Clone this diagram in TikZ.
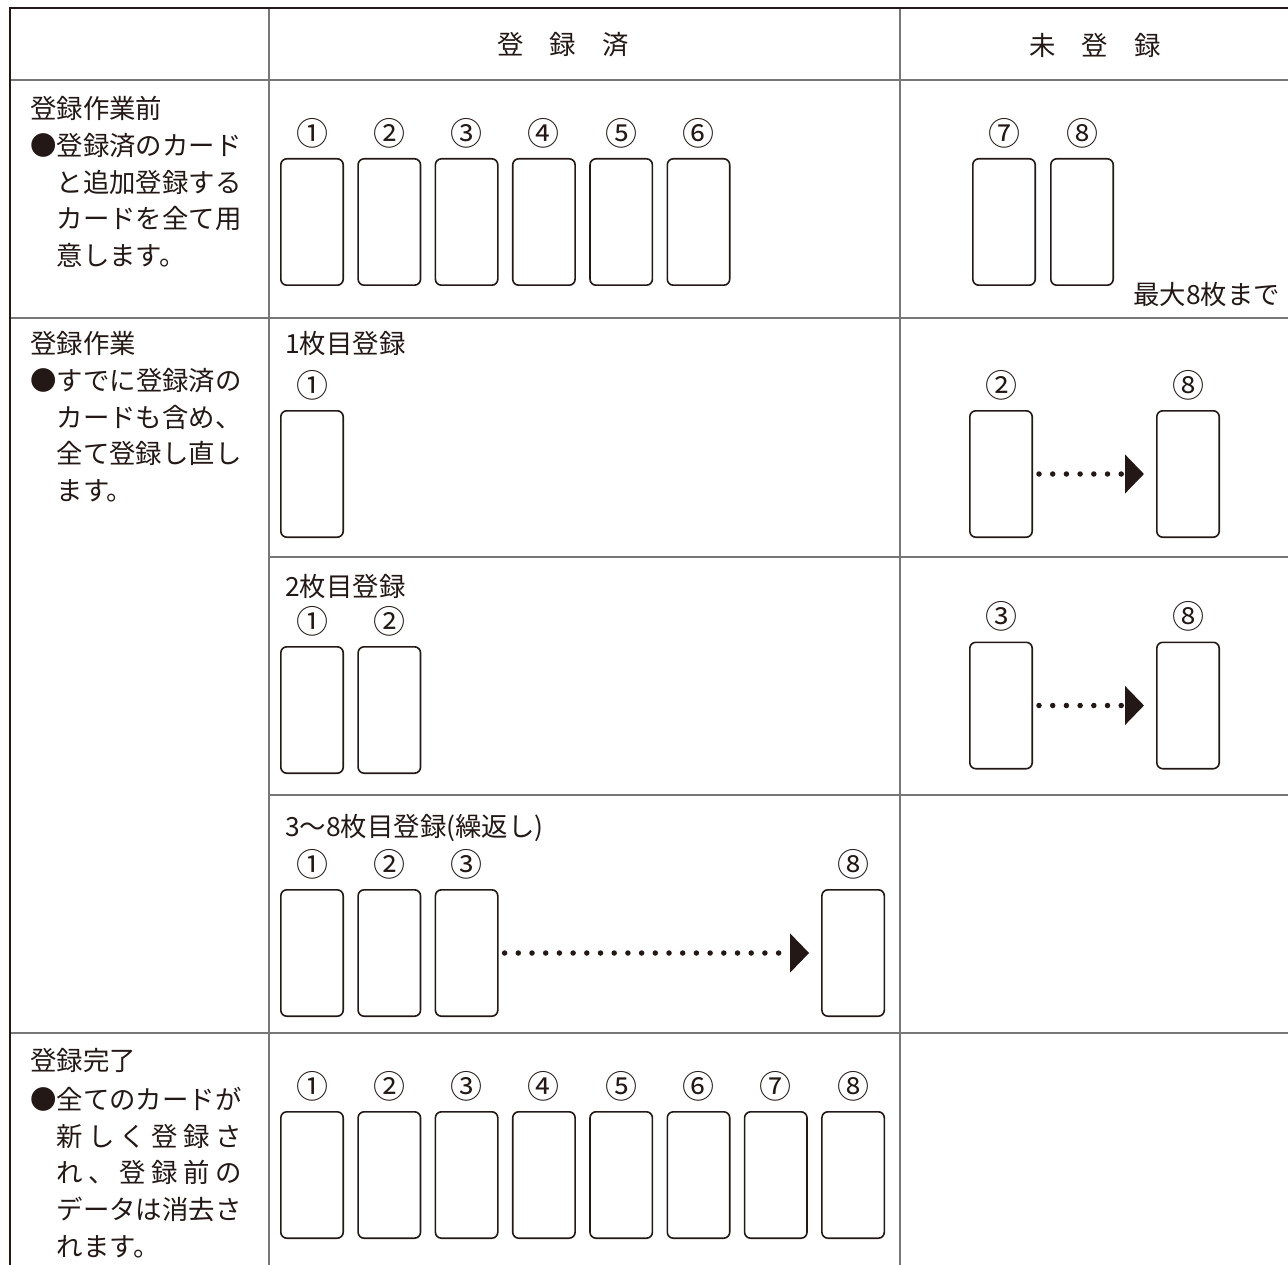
\documentclass[tikz,border=0pt]{standalone}
\usepackage{fontspec}
\setmainfont{Noto Sans CJK JP}
\usetikzlibrary{arrows.meta, positioning}
\definecolor{ink}{HTML}{231815}
\definecolor{rulegray}{HTML}{777777}

\begin{document}
\begin{tikzpicture}[x=1pt, y=-1pt,
	card/.style={draw=ink, line width=1.6pt, rounded corners=6pt, minimum width=62.4pt, minimum height=126.4pt, inner sep=0pt},
	num/.style={font=\fontsize{32}{32}\selectfont, text=ink, inner sep=0pt},
	head/.style={font=\fontsize{26.4}{30}\selectfont, text=ink, inner sep=0pt, anchor=west},
	desc/.style={font=\fontsize{26.4}{36.7}\selectfont, text=ink, inner sep=0pt, anchor=north west, align=left},
	dotarrow/.style={ink, line width=5.5pt, line cap=round, dash pattern=on 0pt off 13.7pt, -{Triangle[length=19pt, width=38pt]}, shorten <=6pt, shorten >=12pt},
	grid/.style={rulegray, line width=1.3pt},
	frame/.style={ink, line width=2.2pt}
	]
	
	\useasboundingbox (0,0) rectangle (1288,1265);
	
	% table
	\draw[grid] (269,8) -- (269,1265);
	\draw[grid] (900,8) -- (900,1265);
	\draw[grid] (10,80) -- (1288,80);
	\draw[grid] (10,318) -- (1288,318);
	\draw[grid] (269,557) -- (1288,557);
	\draw[grid] (269,795) -- (1288,795);
	\draw[grid] (10,1033) -- (1288,1033);
	\draw[frame] (1288,8) -- (10,8) -- (10,1265);
	
	\node[head, anchor=center] (hdone) at (563,45) {登\quad 録\quad 済};
	\node[head, anchor=center] (hnew) at (1095,45) {未\quad 登\quad 録};
	
	% before
	\node[head] (t1) at (30,108) {登録作業前};
	\node[desc] (d1) at (30,133) {●登録済のカード\\\quad と追加登録する\\\quad カードを全て用\\\quad 意します。};
	\foreach \i/\n in {1/①,2/②,3/③,4/④,5/⑤,6/⑥}{
		\node[card] (a\i) at ({312+77.3*(\i-1)},222) {};
		\node[num, above=10pt of a\i] (na\i) {\n};
	}
	\node[card] (a7) at (1004,222) {};
	\node[num, above=10pt of a7] (na7) {⑦};
	\node[card] (a8) at (1082,222) {};
	\node[num, above=10pt of a8] (na8) {⑧};
	\node[head] (maxnote) at (1133,295) {最大8枚まで};
	
	% first card
	\node[head] (t2) at (30,343) {登録作業};
	\node[desc] (d2) at (30,368) {●すでに登録済の\\\quad カードも含め、\\\quad 全て登録し直し\\\quad ます。};
	\node[head] (s1) at (285,344) {1枚目登録};
	\node[card] (b1) at (312,474) {};
	\node[num, above=10pt of b1] (nb1) {①};
	\node[card] (b2) at (1001,474) {};
	\node[num, above=10pt of b2] (nb2) {②};
	\node[card] (b8) at (1188,474) {};
	\node[num, above=10pt of b8] (nb8) {⑧};
	\draw[dotarrow] (b2.east) -- (b8.west);
	
	% second card
	\node[head] (s2) at (285,587) {2枚目登録};
	\node[card] (c1) at (312,710) {};
	\node[num, above=10pt of c1] (nc1) {①};
	\node[card] (c2) at (389.3,710) {};
	\node[num, above=10pt of c2] (nc2) {②};
	\node[card] (c3) at (1001,705.5) {};
	\node[num, above=10pt of c3] (nc3) {③};
	\node[card] (c8) at (1188,705.5) {};
	\node[num, above=10pt of c8] (nc8) {⑧};
	\draw[dotarrow] (c3.east) -- (c8.west);
	
	% 3 to 8
	\node[head] (s3) at (285,828) {3〜8枚目登録(繰返し)};
	\foreach \i/\n in {1/①,2/②,3/③}{
		\node[card] (e\i) at ({312+77.3*(\i-1)},953) {};
		\node[num, above=10pt of e\i] (ne\i) {\n};
	}
	\node[card] (e8) at (853.1,953) {};
	\node[num, above=10pt of e8] (ne8) {⑧};
	\draw[dotarrow] (e3.east) -- (e8.west);
	
	% done
	\node[head] (t5) at (30,1060) {登録完了};
	\node[desc] (d5) at (30,1087) {●全てのカードが\\\quad\makebox[184.8pt]{新\hfill し\hfill く\hfill 登\hfill 録\hfill さ}\\\quad\makebox[184.8pt]{れ\hfill 、\hfill 登\hfill 録\hfill 前\hfill の}\\\quad データは消去さ\\\quad れます。};
	\foreach \i/\n in {1/①,2/②,3/③,4/④,5/⑤,6/⑥,7/⑦,8/⑧}{
		\node[card] (f\i) at ({312+77.3*(\i-1)},1175) {};
		\node[num, above=10pt of f\i] (nf\i) {\n};
	}
	
\end{tikzpicture}
\end{document}
